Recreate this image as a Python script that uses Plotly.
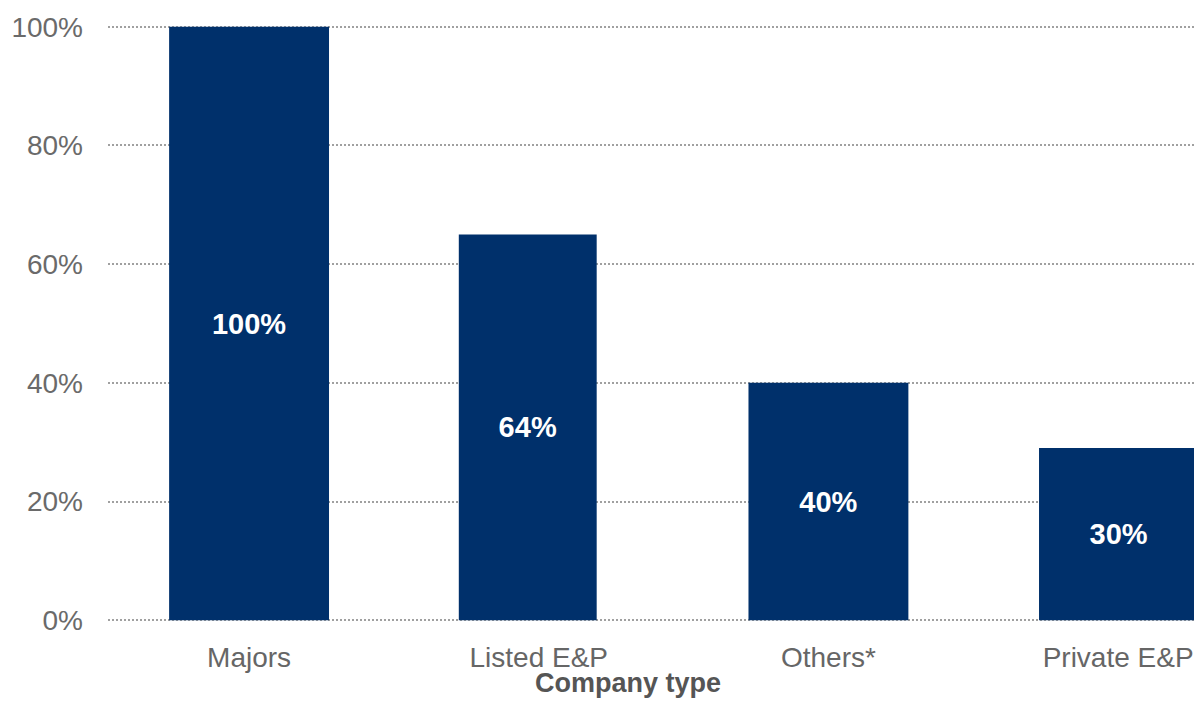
import plotly.graph_objects as go

categories = ["Majors", "Listed E&P", "Others*", "Private E&P"]
values = [100, 65, 40, 29]
bar_labels = ["100%", "64%", "40%", "30%"]
y_ticks = [0, 20, 40, 60, 80, 100]
y_tick_labels = ["0%", "20%", "40%", "60%", "80%", "100%"]
x_title = "Company type"

# per-bar styling (widths/offsets in category units)
widths = [0.552, 0.476, 0.552, 0.55]
offsets = [-0.276, -0.276, -0.276, -0.273]

fig = go.Figure(
    go.Bar(
        x=categories,
        y=values,
        text=bar_labels,
        width=widths,
        offset=offsets,
        marker=dict(color="#00306b", line=dict(width=0)),
        textposition="inside",
        insidetextanchor="middle",
        textangle=0,
        textfont=dict(family="Liberation Sans, Arial, sans-serif", size=29, color="white", weight="bold"),
        hoverinfo="skip",
    )
)

font_main = "Liberation Sans, Arial, sans-serif"

fig.update_layout(
    width=1194,
    height=724,
    margin=dict(l=108, r=0, t=25, b=102),
    paper_bgcolor="white",
    plot_bgcolor="white",
    showlegend=False,
    font=dict(family=font_main, color="#666666"),
    xaxis=dict(
        type="category",
        range=[-0.487, 3.262],
        showgrid=False,
        zeroline=False,
        showline=False,
        ticks="outside",
        ticklen=10,
        tickcolor="rgba(0,0,0,0)",
        tickfont=dict(family=font_main, size=28, color="#666666"),
    ),
    yaxis=dict(
        range=[-0.3, 100.3],
        tickvals=y_ticks,
        ticktext=y_tick_labels,
        showgrid=True,
        gridcolor="#a0a0a0",
        gridwidth=2,
        griddash="2px,2px",
        zeroline=False,
        showline=False,
        ticks="",
        ticklabelstandoff=24,
        tickfont=dict(family=font_main, size=28, color="#6a6a6a"),
    ),
    annotations=[
        dict(
            text=x_title,
            xref="paper",
            yref="paper",
            x=0.479,
            y=-0.102,
            xanchor="center",
            yanchor="middle",
            showarrow=False,
            font=dict(family=font_main, size=27, color="#555555", weight="bold"),
        )
    ],
)

fig.write_html("out.html")
